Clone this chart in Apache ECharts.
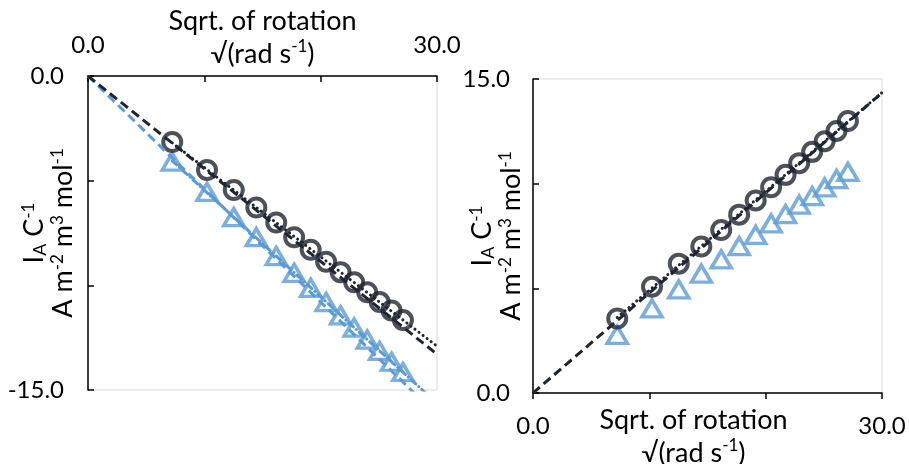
<!DOCTYPE html>
<html>
<head>
<meta charset="utf-8">
<script src="https://cdn.jsdelivr.net/npm/echarts@6/dist/echarts.min.js"></script>
<style>
html,body{margin:0;padding:0;background:#fff;}
#chart{width:909px;height:464px;}
</style>
</head>
<body>
<div id="chart"></div>
<script>
// ---- data ----
const sqrtRotation = [7.24, 10.23, 12.53, 14.47, 16.18, 17.72, 19.14, 20.47, 21.71, 22.88, 24.00, 25.07, 26.09, 27.07];
const leftCircle   = [-3.15, -4.49, -5.45, -6.28, -7.00, -7.70, -8.30, -8.87, -9.37, -9.85, -10.33, -10.80, -11.20, -11.66];
const leftTriangle = [-4.09, -5.54, -6.74, -7.70, -8.60, -9.40, -10.12, -10.80, -11.43, -12.02, -12.59, -13.13, -13.65, -14.14];
const rightCircle  = [3.56, 5.08, 6.18, 7.00, 7.79, 8.52, 9.20, 9.83, 10.42, 10.98, 11.52, 12.03, 12.52, 12.99];
const rightTriangle= [2.78, 4.04, 4.95, 5.70, 6.38, 7.02, 7.55, 8.10, 8.55, 9.00, 9.40, 9.82, 10.22, 10.56];
// slopes of the dashed (through-origin) lines
const leftOriginSlopes = [-0.443, -0.540];   // circle, triangle
const rightOriginSlopes = [0.478];           // circle
// axis ranges / tick labels
const xRange = [0, 30];
const leftYRange = [-15, 0];
const rightYRange = [0, 15];
const xLabelValues = [0, 30];
const leftYLabelValues = [0, -15];
const rightYLabelValues = [0, 15];

const DARK = '#1f2631', BLUE = '#5b9bd5';
const FONT = 'Lato';

function pts(ys){ return sqrtRotation.map((x,i)=>[x, ys[i]]); }
function ols(ys){
  const n = ys.length; let sx=0, sy=0, sxx=0, sxy=0;
  sqrtRotation.forEach((x,i)=>{ sx+=x; sy+=ys[i]; sxx+=x*x; sxy+=x*ys[i]; });
  const b = (n*sxy - sx*sy)/(n*sxx - sx*sx); const a = (sy - b*sx)/n;
  return [[sqrtRotation[0], a + b*sqrtRotation[0]], [xRange[1], a + b*xRange[1]]];
}
function originLine(slope){ return [[xRange[0], 0], [xRange[1], slope*xRange[1]]]; }
function fmt(vals){ return v => vals.includes(v) ? v.toFixed(1) : ''; }

const rich = {
  t: {fontSize: 27, fontFamily: FONT, color: '#000', lineHeight: 33},
  sup: {fontSize: 17, fontFamily: FONT, color: '#000', lineHeight: 20, verticalAlign: 'top'},
  sub: {fontSize: 18, fontFamily: FONT, color: '#000', lineHeight: 20, verticalAlign: 'bottom'}
};
const richY = {
  t: {fontSize: 27, fontFamily: FONT, color: '#000', lineHeight: 29},
  sup: {fontSize: 17, fontFamily: FONT, color: '#000', lineHeight: 16, verticalAlign: 'top'},
  sub: {fontSize: 18, fontFamily: FONT, color: '#000', lineHeight: 16, verticalAlign: 'bottom'}
};
const xName = '{t|Sqrt. of rotation}\n{t|√(rad s}{sup|-1}{t|)}';
const yName = '{t|I}{sub|A}{t| C}{sup|-1}\n{t|A m}{sup|-2}{t| m}{sup|3}{t| mol}{sup|-1}';

const axisLineStyle = {show: true, lineStyle: {color: '#000', width: 1.5}};
const labelStyle = {fontSize: 24, fontFamily: FONT, color: '#000'};

const option = {
  animation: false,
  backgroundColor: '#fff',
  grid: [
    {left: 88, top: 76, width: 349, height: 314, show: true, borderColor: '#d9d9d9', borderWidth: 1, outerBoundsMode: 'none', containLabel: false},
    {left: 533, top: 79, width: 349, height: 314, show: true, borderColor: '#d9d9d9', borderWidth: 1, outerBoundsMode: 'none', containLabel: false}
  ],
  xAxis: [
    {gridIndex: 0, type: 'value', position: 'top', min: xRange[0], max: xRange[1], interval: 10,
     axisLine: axisLineStyle, axisTick: {show: true, inside: true, length: 6, lineStyle: {color: '#000', width: 1.5}},
     splitLine: {show: false},
     axisLabel: Object.assign({margin: 19, formatter: fmt(xLabelValues), showMinLabel: true, showMaxLabel: true}, labelStyle),
     name: xName, nameLocation: 'middle', nameGap: 5, nameMoveOverlap: false, nameTextStyle: {rich: rich}},
    {gridIndex: 1, type: 'value', position: 'bottom', min: xRange[0], max: xRange[1], interval: 10,
     axisLine: axisLineStyle, axisTick: {show: true, inside: false, length: 6, lineStyle: {color: '#000', width: 1.5}},
     splitLine: {show: false},
     axisLabel: Object.assign({margin: 21, formatter: fmt(xLabelValues), showMinLabel: true, showMaxLabel: true}, labelStyle),
     name: xName, nameLocation: 'middle', nameGap: 11, nameMoveOverlap: false, nameTextStyle: {rich: rich, padding: [0, 28, 0, 0]}}
  ],
  yAxis: [
    {gridIndex: 0, type: 'value', min: leftYRange[0], max: leftYRange[1], interval: 5,
     axisLine: axisLineStyle, axisTick: {show: true, inside: true, length: 6, lineStyle: {color: '#000', width: 1.5}},
     splitLine: {show: false},
     axisLabel: Object.assign({margin: 24, formatter: fmt(leftYLabelValues), showMinLabel: true, showMaxLabel: true}, labelStyle),
     name: yName, nameLocation: 'middle', nameRotate: 90, nameGap: 10, nameMoveOverlap: false, nameTextStyle: {rich: richY}},
    {gridIndex: 1, type: 'value', min: rightYRange[0], max: rightYRange[1], interval: 5,
     axisLine: axisLineStyle, axisTick: {show: true, inside: true, length: 6, lineStyle: {color: '#000', width: 1.5}},
     splitLine: {show: false},
     axisLabel: Object.assign({margin: 23, formatter: fmt(rightYLabelValues), showMinLabel: true, showMaxLabel: true}, labelStyle),
     name: yName, nameLocation: 'middle', nameRotate: 90, nameGap: 7, nameMoveOverlap: false, nameTextStyle: {rich: richY}}
  ],
  series: [
    // left chart lines
    {type: 'line', xAxisIndex: 0, yAxisIndex: 0, data: originLine(leftOriginSlopes[1]), symbol: 'none', silent: true,
     lineStyle: {color: BLUE, width: 3, type: [9, 5]}},
    {type: 'line', xAxisIndex: 0, yAxisIndex: 0, data: ols(leftTriangle), symbol: 'none', silent: true,
     lineStyle: {color: BLUE, width: 3, type: [6, 4, 0.1, 4], cap: 'round'}},
    {type: 'line', xAxisIndex: 0, yAxisIndex: 0, data: originLine(leftOriginSlopes[0]), symbol: 'none', silent: true,
     lineStyle: {color: DARK, width: 3, type: [9, 5]}},
    {type: 'line', xAxisIndex: 0, yAxisIndex: 0, data: ols(leftCircle), symbol: 'none', silent: true,
     lineStyle: {color: DARK, width: 3, type: [0.1, 5], cap: 'round'}},
    // left markers
    {type: 'scatter', xAxisIndex: 0, yAxisIndex: 0, data: pts(leftTriangle), symbol: 'triangle', symbolSize: [20, 17],
     itemStyle: {color: 'rgba(0,0,0,0)', borderColor: BLUE, borderWidth: 3.5}},
    {type: 'scatter', xAxisIndex: 0, yAxisIndex: 0, data: pts(leftCircle), symbol: 'circle', symbolSize: 18,
     itemStyle: {color: 'rgba(0,0,0,0)', borderColor: DARK, borderWidth: 4}},
    // right chart lines
    {type: 'line', xAxisIndex: 1, yAxisIndex: 1, data: originLine(rightOriginSlopes[0]), symbol: 'none', silent: true,
     lineStyle: {color: DARK, width: 3, type: [9, 5]}},
    {type: 'line', xAxisIndex: 1, yAxisIndex: 1, data: ols(rightCircle), symbol: 'none', silent: true,
     lineStyle: {color: DARK, width: 3, type: [0.1, 5], cap: 'round'}},
    // right markers
    {type: 'scatter', xAxisIndex: 1, yAxisIndex: 1, data: pts(rightTriangle), symbol: 'triangle', symbolSize: [20, 17],
     itemStyle: {color: 'rgba(0,0,0,0)', borderColor: BLUE, borderWidth: 3.5}},
    {type: 'scatter', xAxisIndex: 1, yAxisIndex: 1, data: pts(rightCircle), symbol: 'circle', symbolSize: 18,
     itemStyle: {color: 'rgba(0,0,0,0)', borderColor: DARK, borderWidth: 4}}
  ]
};
const chart = echarts.init(document.getElementById('chart'), null, {renderer: 'canvas'});
chart.setOption(option);
</script>
</body>
</html>
